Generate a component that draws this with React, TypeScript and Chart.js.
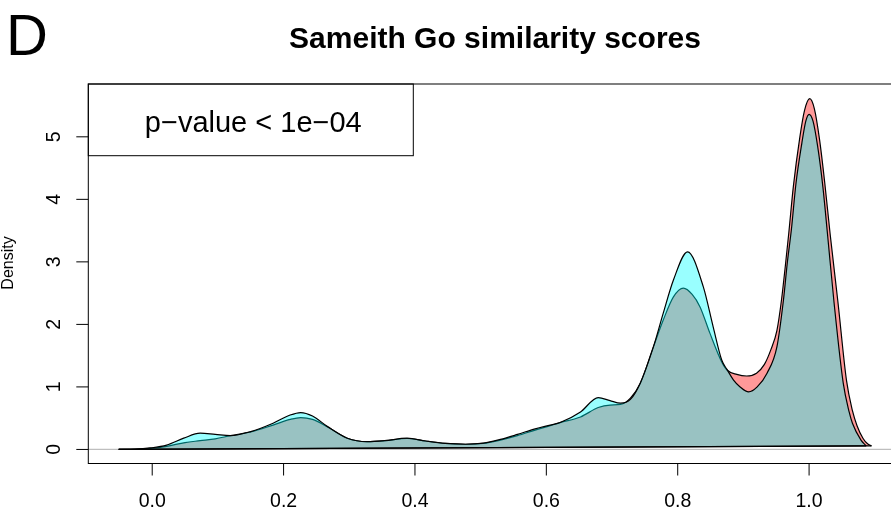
import React, { useEffect, useRef } from "react";
import { Chart, registerables } from "chart.js";

Chart.register(...registerables);

const TITLE = "Sameith Go similarity scores";
const PANEL_LABEL = "D";
const Y_LABEL = "Density";
const LEGEND_TEXT = "p\u2212value < 1e\u221204";

const X_TICKS = [0, 0.2, 0.4, 0.6, 0.8, 1.0];
const X_TICK_LABELS = ["0.0", "0.2", "0.4", "0.6", "0.8", "1.0"];
const Y_TICKS = [0, 1, 2, 3, 4, 5];
const Y_TICK_LABELS = ["0", "1", "2", "3", "4", "5"];

const X_MIN = -0.0973;
const X_MAX = 1.141;
const Y_MIN = -0.2248;
const Y_MAX = 5.8448;

// Red density (drawn first)
const redX = [
  -0.051, -0.026, -0.003, 0.022, 0.05, 0.073, 0.096, 0.119, 0.15, 0.184, 0.21, 0.226, 0.244,
  0.267, 0.297, 0.327, 0.354, 0.388, 0.416, 0.446, 0.477, 0.504, 0.53, 0.556, 0.583, 0.606,
  0.621, 0.652, 0.679, 0.697, 0.713, 0.728, 0.743, 0.763, 0.778, 0.7935, 0.8087, 0.822, 0.834,
  0.849, 0.867, 0.875, 0.89, 0.905, 0.92, 0.932, 0.942, 0.951, 0.958, 0.964, 0.969, 0.976,
  0.986, 0.993, 1.001, 1.008, 1.016, 1.024, 1.032, 1.044, 1.057, 1.066, 1.073, 1.082, 1.089,
  1.095,
];
const redY = [
  0, 0.003, 0.016, 0.05, 0.11, 0.14, 0.17, 0.22, 0.28, 0.39, 0.48, 0.51, 0.48,
  0.36, 0.18, 0.125, 0.14, 0.175, 0.135, 0.096, 0.083, 0.096, 0.15, 0.22, 0.31, 0.38,
  0.43, 0.52, 0.67, 0.71, 0.72, 0.82, 1.06, 1.64, 2.07, 2.44, 2.58, 2.48, 2.28,
  1.86, 1.4, 1.27, 1.2, 1.175, 1.22, 1.36, 1.6, 1.9, 2.39, 2.95, 3.45, 4.2,
  5.0, 5.42, 5.61, 5.45, 4.95, 4.25, 3.45, 2.35, 1.1, 0.62, 0.38, 0.18, 0.09,
  0.056,
];

// Cyan density (drawn on top)
const cyanX = [
  -0.051, -0.026, -0.003, 0.022, 0.048, 0.073, 0.096, 0.119, 0.15, 0.184, 0.21, 0.226, 0.244,
  0.267, 0.297, 0.327, 0.354, 0.388, 0.416, 0.446, 0.477, 0.504, 0.53, 0.556, 0.583, 0.606,
  0.621, 0.652, 0.679, 0.697, 0.713, 0.728, 0.743, 0.763, 0.778, 0.7935, 0.815, 0.839, 0.854,
  0.867, 0.875, 0.885, 0.895, 0.908, 0.921, 0.936, 0.951, 0.961, 0.967, 0.973, 0.98, 0.989,
  0.995, 1.0, 1.006, 1.013, 1.021, 1.028, 1.038, 1.052, 1.061, 1.066, 1.079, 1.087,
];
const cyanY = [
  0, 0.004, 0.024, 0.07, 0.18, 0.26, 0.24, 0.22, 0.285, 0.42, 0.55, 0.59, 0.535,
  0.365, 0.18, 0.125, 0.14, 0.18, 0.135, 0.096, 0.083, 0.1, 0.16, 0.24, 0.33, 0.39,
  0.43, 0.6, 0.83, 0.78, 0.74, 0.8, 1.06, 1.64, 2.18, 2.71, 3.16, 2.6, 1.96,
  1.43, 1.28, 1.11, 1.0, 0.92, 1.0, 1.22, 1.64, 2.39, 3.0, 3.51, 4.25, 4.9,
  5.25, 5.36, 5.25, 4.85, 4.2, 3.45, 2.35, 1.06, 0.6, 0.42, 0.15, 0.056,
];

const FONT = '"Liberation Sans", Arial, Helvetica, sans-serif';

const toPoints = (xs: number[], ys: number[]) => xs.map((x, i) => ({ x, y: ys[i] }));
const closing = (xs: number[], ys: number[]) => [
  { x: xs[xs.length - 1], y: ys[ys.length - 1] },
  { x: xs[0], y: ys[0] },
];

const rDecor = {
  id: "rDecor",
  beforeDatasetsDraw(chart: any) {
    const { ctx, chartArea, scales } = chart;
    const y0 = scales.y.getPixelForValue(0);
    ctx.save();
    ctx.strokeStyle = "#bebebe";
    ctx.lineWidth = 1.3;
    ctx.beginPath();
    ctx.moveTo(chartArea.left, y0);
    ctx.lineTo(chartArea.right, y0);
    ctx.stroke();
    ctx.restore();
  },
  afterDraw(chart: any) {
    const { ctx, chartArea, scales } = chart;
    const { left, right, top, bottom } = chartArea;
    ctx.save();
    ctx.strokeStyle = "#000";
    ctx.fillStyle = "#000";
    ctx.lineWidth = 1;

    // legend box
    const lw = 325;
    const lh = 71.7;
    ctx.fillStyle = "#fff";
    ctx.fillRect(left, top, lw, lh);
    ctx.strokeRect(left, top, lw, lh);
    ctx.fillStyle = "#000";
    ctx.font = `29px ${FONT}`;
    ctx.textAlign = "center";
    ctx.textBaseline = "alphabetic";
    ctx.fillText(LEGEND_TEXT, left + 165, top + 48);

    // plot box
    ctx.strokeRect(left, top, right - left, bottom - top);

    // x ticks
    ctx.font = `19.5px ${FONT}`;
    ctx.beginPath();
    X_TICKS.forEach((v) => {
      const px = scales.x.getPixelForValue(v);
      ctx.moveTo(px, bottom);
      ctx.lineTo(px, bottom + 12);
    });
    ctx.stroke();
    X_TICKS.forEach((v, i) => {
      const px = scales.x.getPixelForValue(v);
      ctx.fillText(X_TICK_LABELS[i], px, bottom + 43.5);
    });

    // y ticks
    ctx.beginPath();
    Y_TICKS.forEach((v) => {
      const py = scales.y.getPixelForValue(v);
      ctx.moveTo(left, py);
      ctx.lineTo(left - 12, py);
    });
    ctx.stroke();
    Y_TICKS.forEach((v, i) => {
      const py = scales.y.getPixelForValue(v);
      ctx.save();
      ctx.translate(left - 28.5, py);
      ctx.rotate(-Math.PI / 2);
      ctx.fillText(Y_TICK_LABELS[i], 0, 0);
      ctx.restore();
    });

    // y label
    ctx.save();
    ctx.font = `16px ${FONT}`;
    ctx.translate(12.5, 263);
    ctx.rotate(-Math.PI / 2);
    ctx.fillText(Y_LABEL, 0, 0);
    ctx.restore();

    // title
    ctx.font = `bold 30px ${FONT}`;
    ctx.fillText(TITLE, (left + right) / 2, 48);

    // panel label
    ctx.textAlign = "left";
    ctx.font = `58px ${FONT}`;
    ctx.fillText(PANEL_LABEL, 6, 55);
    ctx.restore();
  },
};

export default function App() {
  const ref = useRef<HTMLCanvasElement | null>(null);
  useEffect(() => {
    if (!ref.current) return;
    const common = {
      pointRadius: 0,
      pointHoverRadius: 0,
      borderColor: "#000",
      borderWidth: 1.2,
      cubicInterpolationMode: "monotone" as const,
    };
    const chart = new Chart(ref.current, {
      type: "line",
      data: {
        datasets: [
          {
            ...common,
            label: "red",
            data: toPoints(redX, redY),
            backgroundColor: "rgba(255,0,0,0.4)",
            fill: "shape",
            order: 3,
          },
          {
            ...common,
            label: "cyan",
            data: toPoints(cyanX, cyanY),
            backgroundColor: "rgba(0,255,255,0.4)",
            fill: "shape",
            order: 2,
          },
          {
            ...common,
            label: "red-close",
            data: closing(redX, redY),
            fill: false,
            order: 1,
          },
          {
            ...common,
            label: "cyan-close",
            data: closing(cyanX, cyanY),
            fill: false,
            order: 0,
          },
        ],
      } as any,
      options: {
        responsive: false,
        maintainAspectRatio: false,
        animation: false,
        layout: { padding: { left: 88.3, right: 8.3, top: 84, bottom: 46.5 } },
        scales: {
          x: { type: "linear", min: X_MIN, max: X_MAX, display: false },
          y: { type: "linear", min: Y_MIN, max: Y_MAX, display: false },
        },
        plugins: {
          legend: { display: false },
          title: { display: false },
          tooltip: { enabled: false },
        },
      } as any,
      plugins: [rDecor],
    });
    return () => chart.destroy();
  }, []);
  return (
    <div
      style={{
        position: "fixed",
        left: 0,
        top: 0,
        width: 891,
        height: 510,
        overflow: "hidden",
        background: "#fff",
      }}
    >
      <canvas ref={ref} width={910} height={510} style={{ display: "block" }} />
    </div>
  );
}
